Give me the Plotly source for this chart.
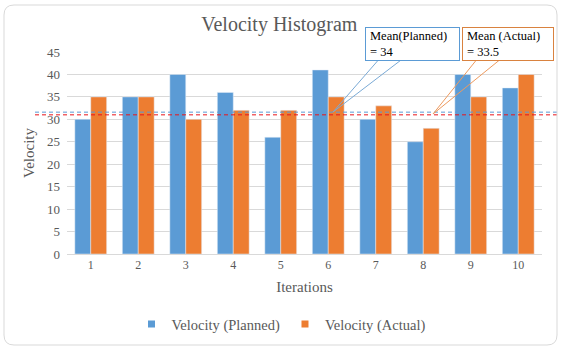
import plotly.graph_objects as go

# ---- data ----
iterations = ["1", "2", "3", "4", "5", "6", "7", "8", "9", "10"]
velocity_planned = [30, 35, 40, 36, 26, 41, 30, 25, 40, 37]
velocity_actual = [35, 35, 30, 32, 32, 35, 33, 28, 35, 40]
mean_line_planned = 31.6   # as drawn in the picture
mean_line_actual = 31.0    # as drawn in the picture
mean_label_planned = "Mean(Planned)<br>= 34"
mean_label_actual = "Mean (Actual)<br>= 33.5"
y_ticks = [0, 5, 10, 15, 20, 25, 30, 35, 40, 45]

BLUE = "#5B9BD5"
ORANGE = "#ED7D31"
GRID = "#D9D9D9"
TXT = "#595959"
FONT = "Liberation Serif, Times New Roman, serif"

W, H = 562, 350
L, R, T, B = 67, 542, 52, 254


def px(x):
    return (x - L) / (R - L)


def py(y):
    return (B - y) / (B - T)


fig = go.Figure()
fig.add_trace(go.Bar(x=iterations, y=velocity_planned, name="Velocity (Planned)",
                     marker_color=BLUE, showlegend=False))
fig.add_trace(go.Bar(x=iterations, y=velocity_actual, name="Velocity (Actual)",
                     marker_color=ORANGE, showlegend=False))
# legend entries with small squares
fig.add_trace(go.Scatter(x=[None], y=[None], mode="markers", name="Velocity (Planned)",
                         marker=dict(symbol="square", size=7, color=BLUE)))
fig.add_trace(go.Scatter(x=[None], y=[None], mode="markers", name="Velocity (Actual)",
                         marker=dict(symbol="square", size=7, color=ORANGE)))

shapes = []
# mean lines (dashed), extending beyond plot area
shapes.append(dict(type="line", xref="paper", yref="y", x0=px(35), x1=px(557),
                   y0=mean_line_planned, y1=mean_line_planned,
                   line=dict(color=BLUE, width=1, dash="4px,3px"), layer="above"))
shapes.append(dict(type="line", xref="paper", yref="y", x0=px(35), x1=px(557),
                   y0=mean_line_actual, y1=mean_line_actual,
                   line=dict(color="#E8141B", width=1, dash="4px,3px"), layer="above"))


def path(points):
    return "M " + " L ".join(f"{px(x):.5f},{py(y):.5f}" for x, y in points)


# callout wedges
shapes.append(dict(type="path", xref="paper", yref="paper",
                   path=path([(381, 57), (333, 112), (405, 57)]),
                   line=dict(color="#7AAAD6", width=1)))
shapes.append(dict(type="path", xref="paper", yref="paper",
                   path=path([(478, 58), (433, 114), (502, 58)]),
                   line=dict(color="#EE9A5E", width=1)))

# rounded outer border
x0, y0, x1, y1, r = 4, 5, 557, 345, 10
bp = (f"M {px(x0 + r):.5f},{py(y0):.5f} L {px(x1 - r):.5f},{py(y0):.5f} "
      f"Q {px(x1):.5f},{py(y0):.5f} {px(x1):.5f},{py(y0 + r):.5f} "
      f"L {px(x1):.5f},{py(y1 - r):.5f} Q {px(x1):.5f},{py(y1):.5f} {px(x1 - r):.5f},{py(y1):.5f} "
      f"L {px(x0 + r):.5f},{py(y1):.5f} Q {px(x0):.5f},{py(y1):.5f} {px(x0):.5f},{py(y1 - r):.5f} "
      f"L {px(x0):.5f},{py(y0 + r):.5f} Q {px(x0):.5f},{py(y0):.5f} {px(x0 + r):.5f},{py(y0):.5f} Z")
shapes.append(dict(type="path", xref="paper", yref="paper", path=bp,
                   line=dict(color=GRID, width=1)))

annotations = [
    dict(xref="paper", yref="paper", x=px(365), y=py(27), xanchor="left", yanchor="top",
         text=mean_label_planned, showarrow=False, align="left", width=85, height=24,
         borderpad=4, bordercolor="#5B9BD5", borderwidth=1, bgcolor="white",
         font=dict(family=FONT, size=12.5, color="#000000")),
    dict(xref="paper", yref="paper", x=px(462), y=py(27), xanchor="left", yanchor="top",
         text=mean_label_actual, showarrow=False, align="left", width=82, height=24,
         borderpad=4, bordercolor="#D9823F", borderwidth=1, bgcolor="white",
         font=dict(family=FONT, size=12.5, color="#000000")),
]

fig.update_layout(
    width=W, height=H,
    margin=dict(l=L, r=W - R, t=T, b=H - B),
    paper_bgcolor="white", plot_bgcolor="white",
    barmode="group", bargap=0.33, bargroupgap=0,
    font=dict(family=FONT, size=13, color=TXT),
    title=dict(text="Velocity Histogram", xref="container", x=0.497, yref="container",
               y=1 - 24 / H, xanchor="center", yanchor="middle",
               font=dict(family=FONT, size=20, color=TXT)),
    xaxis=dict(showgrid=False, showline=True, linecolor=GRID, linewidth=1,
               tickfont=dict(size=12, color=TXT),
               title=dict(text="Iterations", font=dict(size=15, color=TXT), standoff=10)),
    yaxis=dict(range=[0, 45], tickvals=y_ticks, showgrid=True, gridcolor=GRID, gridwidth=1,
               zeroline=False, showline=False, tickfont=dict(size=13, color=TXT),
               ticklabelstandoff=6,
               title=dict(text="Velocity", font=dict(size=15, color=TXT), standoff=8)),
    legend=dict(orientation="h", xref="container", yref="container", x=0.5, y=1 - 324 / H,
                xanchor="center", yanchor="middle", font=dict(size=14.5, color=TXT),
                itemwidth=30, bgcolor="rgba(0,0,0,0)"),
    shapes=shapes,
    annotations=annotations,
)

fig.write_html("out.html")
